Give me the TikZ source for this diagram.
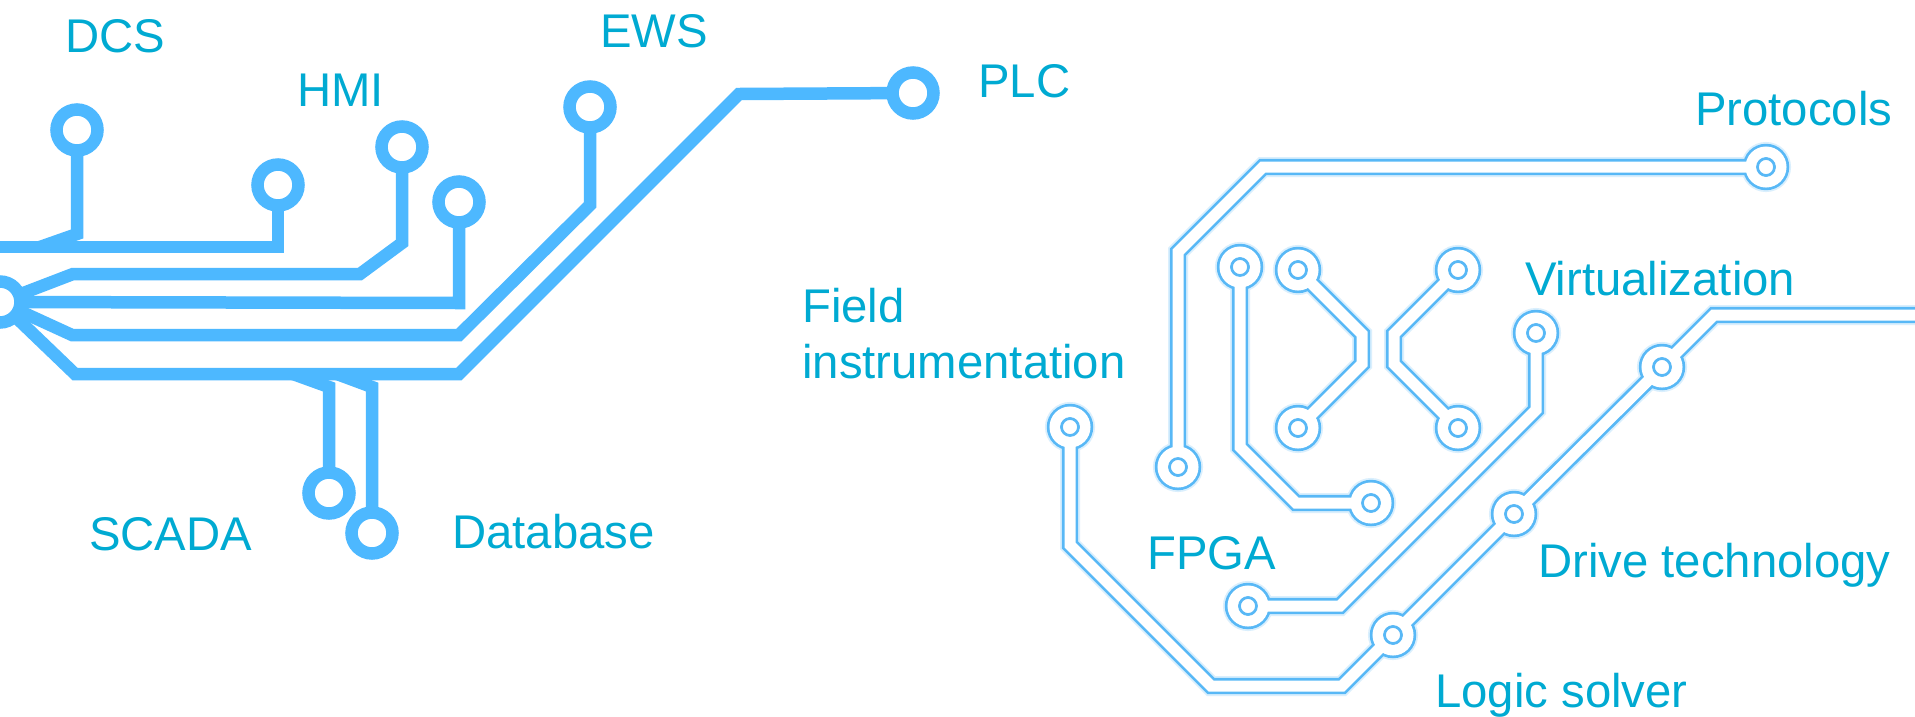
\documentclass[tikz,border=0pt]{standalone}
\usepackage{fontspec}
\setmainfont{Liberation Sans}
\definecolor{lblue}{RGB}{77,184,255}
\definecolor{rblue}{RGB}{88,184,246}
\definecolor{tblue}{RGB}{0,170,210}
\begin{document}
\begin{tikzpicture}[x=1pt,y=-1pt,
  lwire/.style={draw=lblue, line width=12.5pt, line join=miter},
  lpad/.style={circle, draw=lblue, line width=12.5pt, fill=white, minimum size=41pt, inner sep=0pt, outer sep=0pt},
  rglow/.style={draw=rblue!22, line width=20pt, line join=miter},
  rout/.style={draw=rblue, line width=16.4pt, line join=miter},
  rin/.style={draw=white, line width=11pt, line join=miter},
  rhole/.style={draw=rblue, line width=2.7pt, fill=white},
  lbl/.style={text=tblue, font=\fontsize{47.3}{56}\selectfont, inner sep=0pt, anchor=base west, align=left},
]
\useasboundingbox (0,0) rectangle (1915,716);
\fill[white] (0,0) rectangle (1915,716);
\clip (0,0) rectangle (1915,716);

% ---------- left circuit ----------
\node[lpad] (dcs) at (77,130) {};
\node[lpad] (pa)  at (278,185) {};
\node[lpad] (hmi) at (402,147) {};
\node[lpad] (pb)  at (459,202) {};
\node[lpad] (ews) at (590,107) {};
\node[lpad] (plc) at (913,93) {};
\node[lpad] (scada) at (329,493) {};
\node[lpad] (db)  at (372,533) {};
\node[lpad] (hub) at (0,302) {};
\coordinate (edge1) at (-10,247);

\draw[lwire] (edge1) -- (278,247) -- (pa);
\draw[lwire] (dcs) -- (77,234) -- (40,247);
\draw[lwire] (hmi) -- (402,243) -- (360,274) -- (73,274) -- (hub);
\draw[lwire] (pb) -- (459,303) -- (hub);
\draw[lwire] (ews) -- (590,205) -- (459,335) -- (72,335) -- (hub);
\draw[lwire] (plc) -- (739,94) -- (459,374) -- (75,374) -- (hub);
\draw[lwire] (scada) -- (329,387) -- (293,374);
\draw[lwire] (db) -- (372,387) -- (337,374);

% ---------- right circuit ----------
\coordinate (rP) at (1766,167);
\coordinate (rA) at (1178,467);
\coordinate (rB) at (1240,267);
\coordinate (rC) at (1371,503);
\coordinate (rD) at (1298,270);
\coordinate (rE) at (1298,428);
\coordinate (rF) at (1458,270);
\coordinate (rG) at (1458,428);
\coordinate (rH) at (1536,333);
\coordinate (rI) at (1248,606);
\coordinate (rJ) at (1070,427);
\coordinate (rK) at (1393,635);
\coordinate (rL) at (1514,514);
\coordinate (rM) at (1662,367);
\coordinate (rEnd) at (1940,315);

\foreach \st in {rglow,rout,rin}{
  \draw[\st] (rP) -- (1263,167) -- (1178,252) -- (rA);
  \draw[\st] (rB) -- (1240,447) -- (1296,503) -- (rC);
  \draw[\st] (rD) -- (1362,334) -- (1362,364) -- (rE);
  \draw[\st] (rF) -- (1394,334) -- (1394,364) -- (rG);
  \draw[\st] (rH) -- (1536,410) -- (1340,606) -- (rI);
  \draw[\st] (rJ) -- (1070,545) -- (1211,686) -- (1342,686) -- (rK) -- (rL) -- (rM) -- (1714,315) -- (rEnd);
  \foreach \p in {rP,rA,rB,rC,rD,rE,rF,rG,rH,rI,rJ,rK,rL,rM}{
    \draw[\st] (\p) circle[radius=15pt];
  }
}
\foreach \p in {rP,rA,rB,rC,rD,rE,rF,rG,rH,rI,rJ,rK,rL,rM}{
  \draw[rhole] (\p) circle[radius=8.5pt];
}

% ---------- labels ----------
\node[lbl] (tdcs) at (65,52) {DCS};
\node[lbl] (thmi) at (297,106) {HMI};
\node[lbl] (tews) at (600,47) {EWS};
\node[lbl] (tplc) at (978,97) {PLC};
\node[lbl] (tscada) at (89,550) {SCADA};
\node[lbl] (tdb) at (452,548) {Database};
\node[lbl] (tfield) at (802,378) {Field\\instrumentation};
\node[lbl] (tproto) at (1695,125) {Protocols};
\node[lbl] (tvirt) at (1525,295) {Virtualization};
\node[lbl] (tfpga) at (1147,569) {FPGA};
\node[lbl] (tdrive) at (1538,577) {Drive technology};
\node[lbl] (tlogic) at (1435,707) {Logic solver};
\end{tikzpicture}
\end{document}
